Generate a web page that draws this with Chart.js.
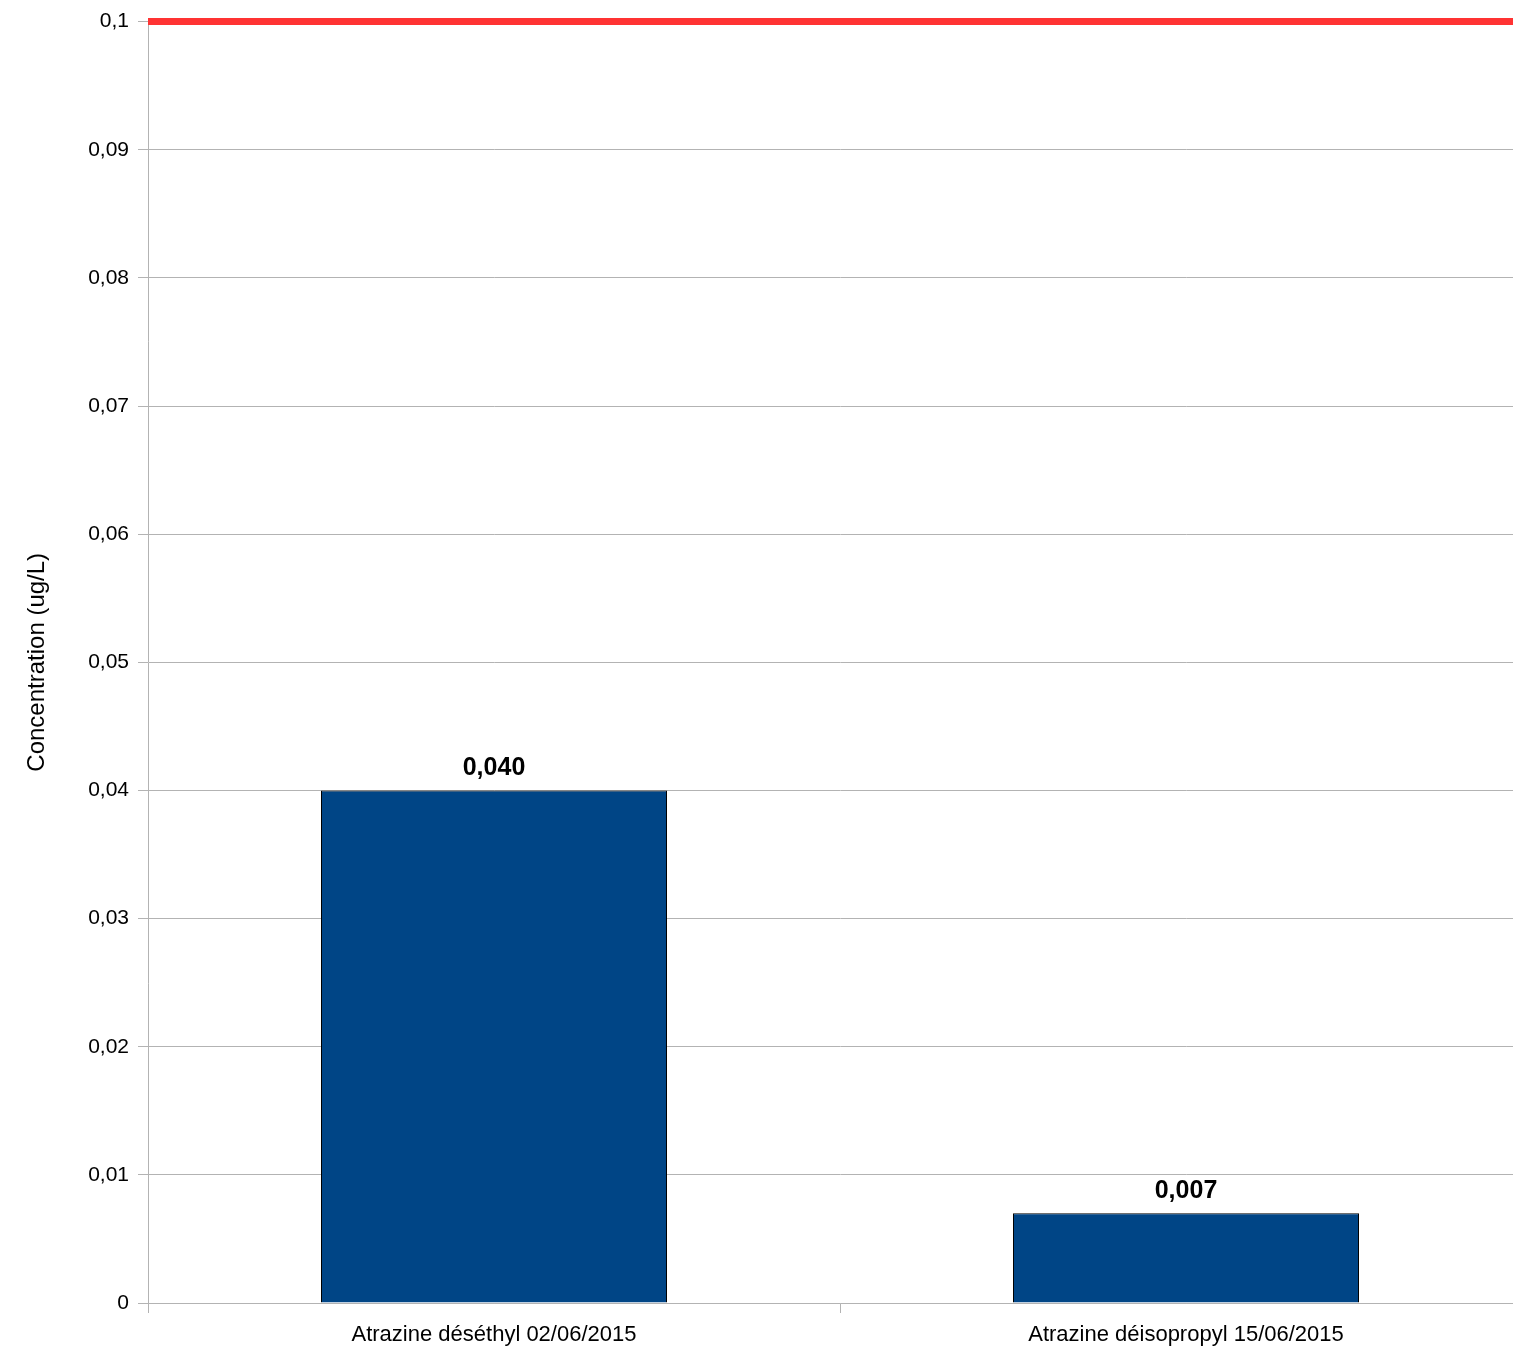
<!DOCTYPE html>
<html>
<head>
<meta charset="utf-8">
<script src="https://cdn.jsdelivr.net/npm/chart.js@4/dist/chart.umd.min.js"></script>
<style>
    html, body { margin: 0; padding: 0; background: #ffffff; overflow: hidden; }
    #wrap { width: 1532px; height: 1351px; }
</style>
</head>
<body>
<div id="wrap"><canvas id="grafico" width="1532" height="1351"></canvas></div>
<script>
const categorias = ['Atrazine déséthyl 02/06/2015', 'Atrazine déisopropyl 15/06/2015'];
const concentracoes = [0.040, 0.007];
const limite = 0.1;
const eixoMin = 0;
const eixoMax = 0.1;
const passo = 0.01;

const formatarTick = v => String(Math.round(v * 100) / 100).replace('.', ',');
const formatarValor = v => v.toFixed(3).replace('.', ',');

// linha vermelha do limite, de ponta a ponta da area
const linhaLimite = {
    id: 'linhaLimite',
    afterDatasetsDraw(chart) {
        const { ctx, chartArea, scales } = chart;
        const y = scales.y.getPixelForValue(limite);
        ctx.save();
        ctx.strokeStyle = '#ff3333';
        ctx.lineWidth = 7;
        ctx.beginPath();
        ctx.moveTo(chartArea.left, y);
        ctx.lineTo(chartArea.right, y);
        ctx.stroke();
        ctx.restore();
    }
};

// rotulos em negrito acima das barras
const rotulosBarras = {
    id: 'rotulosBarras',
    afterDatasetsDraw(chart) {
        const { ctx } = chart;
        const meta = chart.getDatasetMeta(0);
        ctx.save();
        ctx.font = 'bold 25px "Liberation Sans", Arial, sans-serif';
        ctx.fillStyle = '#000000';
        ctx.textAlign = 'center';
        ctx.textBaseline = 'middle';
        meta.data.forEach((barra, i) => {
            ctx.fillText(formatarValor(concentracoes[i]), barra.x, barra.y - 22);
        });
        ctx.restore();
    }
};

new Chart(document.getElementById('grafico'), {
    type: 'bar',
    data: {
        labels: categorias,
        datasets: [{
            data: concentracoes,
            backgroundColor: '#004586',
            borderColor: '#000000',
            borderWidth: 1,
            barPercentage: 0.5,
            categoryPercentage: 1,
        }]
    },
    options: {
        responsive: false,
        animation: false,
        layout: { padding: { top: 19, left: 0, right: 0, bottom: 0 } },
        plugins: {
            legend: { display: false },
            tooltip: { enabled: false }
        },
        scales: {
            x: {
                offset: true,
                afterFit: scale => { scale.height = 48; },
                grid: {
                    offset: true,
                    drawOnChartArea: false,
                    color: '#b3b3b3',
                    tickLength: 10,
                },
                border: { color: '#b3b3b3', width: 1 },
                ticks: {
                    color: '#000000',
                    padding: 9,
                    maxRotation: 0,
                    minRotation: 0,
                    font: { family: '"Liberation Sans", Arial, sans-serif', size: 22 }
                }
            },
            y: {
                min: eixoMin,
                max: eixoMax,
                afterFit: scale => { scale.width = 148; },
                grid: {
                    color: '#b3b3b3',
                    tickLength: 10,
                },
                border: { color: '#b3b3b3', width: 1 },
                ticks: {
                    stepSize: passo,
                    color: '#000000',
                    padding: 9,
                    callback: v => formatarTick(v),
                    font: { family: '"Liberation Sans", Arial, sans-serif', size: 21 }
                },
                title: {
                    display: true,
                    text: 'Concentration (ug/L)',
                    color: '#000000',
                    padding: { top: 23, bottom: 0 },
                    font: { family: '"Liberation Sans", Arial, sans-serif', size: 24 }
                }
            }
        }
    },
    plugins: [linhaLimite, rotulosBarras]
});
</script>
</body>
</html>
